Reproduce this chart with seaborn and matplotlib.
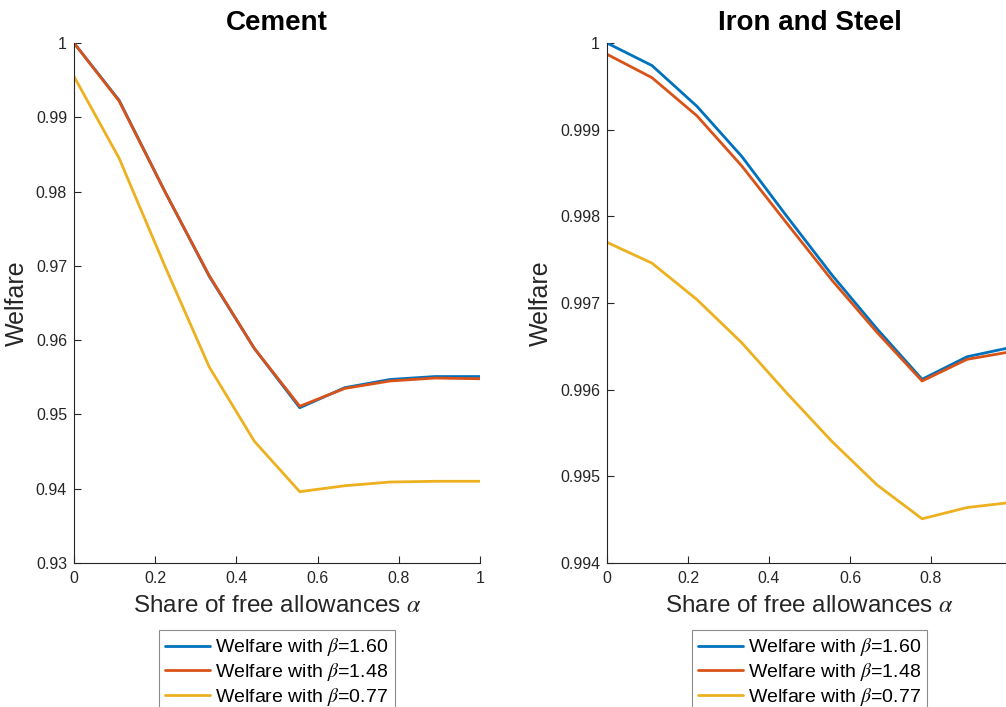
import matplotlib
matplotlib.use("Agg")
import matplotlib.pyplot as plt
import seaborn as sns
import pandas as pd
from matplotlib.ticker import FormatStrFormatter, MultipleLocator, FixedLocator

# ---------------- data ----------------
alpha = [0.0, 0.111, 0.222, 0.333, 0.444, 0.556, 0.667, 0.778, 0.889, 1.0]

cement_b160 = [1.0000, 0.9923, 0.9802, 0.9686, 0.9589, 0.9509, 0.9536, 0.9547, 0.9551, 0.9551]
cement_b148 = [1.0000, 0.9922, 0.9802, 0.9687, 0.9589, 0.9511, 0.9535, 0.9545, 0.9549, 0.9548]
cement_b077 = [0.9955, 0.9845, 0.9702, 0.9564, 0.9464, 0.9396, 0.9404, 0.9409, 0.9410, 0.9410]

iron_b160 = [1.00000, 0.99974, 0.99927, 0.99869, 0.99800, 0.99732, 0.99670, 0.99612, 0.99638, 0.99649]
iron_b148 = [0.99987, 0.99960, 0.99916, 0.99858, 0.99792, 0.99726, 0.99666, 0.99610, 0.99635, 0.99644]
iron_b077 = [0.99770, 0.99746, 0.99704, 0.99654, 0.99596, 0.99540, 0.99490, 0.99451, 0.99464, 0.99470]

x_ticks_left = [0, 0.2, 0.4, 0.6, 0.8, 1.0]
x_ticks_right = [0, 0.2, 0.4, 0.6, 0.8]   # the "1" tick lies beyond the cropped figure edge

series_labels = ["Welfare with $\\beta$=1.60", "Welfare with $\\beta$=1.48", "Welfare with $\\beta$=0.77"]
colors = ["#0072BD", "#D95319", "#EDB120"]
titles = ["Cement", "Iron and Steel"]

# ---------------- style ----------------
sns.set_theme(style="white")
plt.rcParams["font.family"] = ["Liberation Sans", "DejaVu Sans"]
plt.rcParams["mathtext.fontset"] = "stix"
dark = "#262626"

W, H = 1006, 707
fig = plt.figure(figsize=(W / 100, H / 100), dpi=100)

def px_axes(left, top, right, bottom):
    return fig.add_axes([left / W, 1 - bottom / H, (right - left) / W, (bottom - top) / H])

ax1 = px_axes(74, 43, 480, 563)
ax2 = px_axes(607, 43, 1012, 563)

panels = [
    (ax1, [cement_b160, cement_b148, cement_b077], (0.93, 1.0), 0.01, x_ticks_left),
    (ax2, [iron_b160, iron_b148, iron_b077], (0.994, 1.0), 0.001, x_ticks_right),
]

for (ax, ys, ylim, ystep, xt), title in zip(panels, titles):
    for y, lab, c in zip(ys, series_labels, colors):
        df = pd.DataFrame({"alpha": alpha, "welfare": y})
        sns.lineplot(data=df, x="alpha", y="welfare", ax=ax, color=c, lw=2.0, label=lab)
    ax.set_xlim(0, 1)
    ax.set_ylim(*ylim)
    ax.xaxis.set_major_locator(FixedLocator(xt))
    ax.yaxis.set_major_locator(MultipleLocator(ystep))
    ax.xaxis.set_major_formatter(FormatStrFormatter("%g"))
    ax.yaxis.set_major_formatter(FormatStrFormatter("%g"))
    for s in ["top", "right"]:
        ax.spines[s].set_visible(False)
    for s in ["left", "bottom"]:
        ax.spines[s].set_color(dark)
        ax.spines[s].set_linewidth(0.8)
    ax.tick_params(axis="both", direction="in", length=5, width=0.8, colors=dark,
                   labelsize=11.5, left=True, bottom=True, top=False, right=False)
    ax.tick_params(axis="x", pad=6)
    ax.tick_params(axis="y", pad=5)
    ax.set_title(title, fontsize=20, fontweight="bold", pad=9, color="black")
    ax.set_xlabel("Share of free allowances $\\alpha$", fontsize=17.5, color=dark, labelpad=6)
    ax.set_ylabel("Welfare", fontsize=18, color=dark, labelpad=5)
    leg = ax.legend(loc="upper center", bbox_to_anchor=(0.5, -0.129), fontsize=14,
                    frameon=True, fancybox=False, framealpha=1, edgecolor="#8c8c8c",
                    handlelength=2.3, handletextpad=0.27, labelspacing=0.14,
                    borderpad=0.33, borderaxespad=0.0)
    leg.get_frame().set_linewidth(0.8)
    for t in leg.get_texts():
        t.set_color("black")

fig.savefig("out.png", dpi=100, facecolor="white")
